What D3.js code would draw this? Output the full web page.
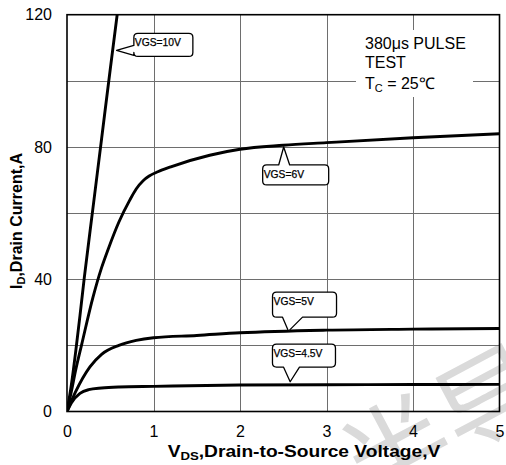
<!DOCTYPE html>
<html>
<head>
<meta charset="utf-8">
<script src="https://cdn.jsdelivr.net/npm/d3@7"></script>
<style>
  html, body { margin: 0; padding: 0; background: #fff; }
  svg { display: block; font-family: "Liberation Sans", Arial, sans-serif; }
</style>
</head>
<body>
<svg id="chart" width="506" height="465"></svg>
<script>
// Output characteristics: drain current vs drain-source voltage for several gate drives
const seriesNames = ["VGS=10V", "VGS=6V", "VGS=5V", "VGS=4.5V"];

const vds10 = [0, 0.05, 0.1, 0.15, 0.2, 0.3, 0.4, 0.5, 0.58];
const id10  = [0, 8, 18, 29, 40.5, 61.5, 82.5, 103.5, 120];

const vds6 = [0, 0.05, 0.1, 0.17, 0.3, 0.4, 0.475, 0.6, 0.727, 0.8, 0.88, 0.95, 1.05, 1.2, 1.65, 2, 2.5, 3, 4, 5];
const id6  = [0, 6, 12.5, 20.3, 34.5, 43.5, 49, 57.3, 64, 67.3, 69.8, 71.2, 72.5, 74, 77.5, 79.3, 80.5, 81.3, 82.8, 84];

const vds5 = [0, 0.1, 0.265, 0.4, 0.6, 0.8, 1, 1.5, 2, 3, 4, 5];
const id5  = [0, 6, 13.5, 17.3, 20, 21.5, 22.3, 23, 23.8, 24.6, 24.9, 25.1];

const vds45 = [0, 0.05, 0.15, 0.25, 0.4, 0.6, 1, 2, 3, 4, 5];
const id45  = [0, 2.6, 5.5, 6.6, 7.1, 7.4, 7.6, 8.0, 8.1, 8.15, 8.2];

// where each callout points, in data units
const labelAnchorV = [0.573, 2.505, 2.561, 2.58];
const labelAnchorI = [109.2, 80.0, 24.3, 9.0];

const xTicks = [0, 1, 2, 3, 4, 5];
const yTickLabels = [0, 40, 80, 120];
const yGrid = [20, 40, 60, 80, 100];
const xGrid = [1, 2, 3, 4];

const noteLines = ["380μs PULSE", "TEST"];

const svg = d3.select("#chart");
const plotLeft = 67, plotRight = 499.5, plotTop = 14.7, plotBottom = 411.5;

const x = d3.scaleLinear().domain([0, 5]).range([plotLeft, plotRight]);
const y = d3.scaleLinear().domain([0, 120]).range([plotBottom, plotTop]);

// faint watermark behind the plot
svg.append("text")
  .attr("transform", "translate(368,512) rotate(-28)")
  .attr("font-family", "'Noto Sans CJK SC', sans-serif")
  .attr("font-size", 108)
  .attr("fill", "#dadada")
  .text("半导体");

// grid
const grid = svg.append("g").attr("stroke", "#6e6e6e").attr("stroke-width", 1);
grid.selectAll("line.h").data(yGrid).join("line")
  .attr("x1", plotLeft).attr("x2", plotRight)
  .attr("y1", d => Math.round(y(d)) + 0.5).attr("y2", d => Math.round(y(d)) + 0.5);
grid.selectAll("line.v").data(xGrid).join("line")
  .attr("y1", plotTop).attr("y2", plotBottom)
  .attr("x1", d => Math.round(x(d)) + 0.5).attr("x2", d => Math.round(x(d)) + 0.5);

// white panel behind the test-condition note
svg.append("rect")
  .attr("x", 356).attr("y", 30).attr("width", 117).attr("height", 67)
  .attr("fill", "#fff");

const note = svg.append("g").attr("font-size", 16).attr("fill", "#000");
note.selectAll("text.l").data(noteLines).join("text")
  .attr("x", 365).attr("y", (d, i) => 48.5 + i * 19.5)
  .text(d => d);
const tc = note.append("text").attr("x", 365).attr("y", 88.5);
tc.append("tspan").text("T");
tc.append("tspan").attr("font-size", 11).attr("dy", 3).text("C");
tc.append("tspan").attr("dy", -3).text(" = 25℃");

// curves
const clipId = "plotclip";
svg.append("clipPath").attr("id", clipId).append("rect")
  .attr("x", plotLeft).attr("y", plotTop - 1)
  .attr("width", plotRight - plotLeft).attr("height", plotBottom - plotTop + 1);

const line = d3.line().x(d => x(d[0])).y(d => y(d[1])).curve(d3.curveMonotoneX);
const curves = [[vds10, id10], [vds6, id6], [vds5, id5], [vds45, id45]]
  .map(([vs, is]) => vs.map((v, i) => [v, is[i]]));

svg.append("g").attr("clip-path", `url(#${clipId})`)
  .selectAll("path").data(curves).join("path")
  .attr("d", line)
  .attr("fill", "none")
  .attr("stroke", "#000")
  .attr("stroke-width", 2.9)
  .attr("stroke-linejoin", "round");

// frame
svg.append("rect")
  .attr("x", plotLeft).attr("y", plotTop)
  .attr("width", plotRight - plotLeft).attr("height", plotBottom - plotTop)
  .attr("fill", "none").attr("stroke", "#000").attr("stroke-width", 1.6);

// axes (labels only; grid and frame drawn separately)
const xAxis = svg.append("g").attr("transform", `translate(0,${plotBottom})`)
  .call(d3.axisBottom(x).tickValues(xTicks).tickFormat(d3.format("d")).tickSize(0).tickPadding(14));
const yAxis = svg.append("g").attr("transform", `translate(${plotLeft},0)`)
  .call(d3.axisLeft(y).tickValues(yTickLabels).tickFormat(d3.format("d")).tickSize(0).tickPadding(15));
[xAxis, yAxis].forEach(a => {
  a.select(".domain").remove();
  a.selectAll("text").attr("font-size", 16).attr("font-family", "'Liberation Sans', Arial, sans-serif").attr("fill", "#000");
});

// axis titles
const xt = svg.append("text")
  .attr("transform", "translate(304,457) scale(1.2,1)")
  .attr("text-anchor", "middle")
  .attr("font-size", 16).attr("font-weight", "bold");
xt.append("tspan").text("V");
xt.append("tspan").attr("font-size", 11).attr("dy", 3).text("DS");
xt.append("tspan").attr("dy", -3).text(",Drain-to-Source Voltage,V");

const yt = svg.append("text")
  .attr("transform", "translate(22,221) rotate(-90)")
  .attr("text-anchor", "middle")
  .attr("font-size", 16).attr("font-weight", "bold");
yt.append("tspan").text("I");
yt.append("tspan").attr("font-size", 11).attr("dy", 3).text("D");
yt.append("tspan").attr("dy", -3).text(",Drain Current,A");

// callouts: box offsets from the pointer tip, and which edge carries the pointer
const calloutLayout = [
  { side: "left",   bx: [17.3, 76.3],  by: [-17, 6],       base: [-5, 5] },
  { side: "top",    bx: [-21, 45],     by: [18, 38],       base: [-5, 6] },
  { side: "bottom", bx: [-16, 48],     by: [-39, -14],     base: [-6, 14] },
  { side: "bottom", bx: [-17.7, 45.3], by: [-37.7, -14.7], base: [-6.7, 9.3] }
];

function calloutPath(tx, ty, L) {
  const r = 4;
  const x0 = tx + L.bx[0], x1 = tx + L.bx[1], y0 = ty + L.by[0], y1 = ty + L.by[1];
  const p = d3.path();
  p.moveTo(x0 + r, y0);
  if (L.side === "top") { p.lineTo(tx + L.base[0], y0); p.lineTo(tx, ty); p.lineTo(tx + L.base[1], y0); }
  p.lineTo(x1 - r, y0);
  p.quadraticCurveTo(x1, y0, x1, y0 + r);
  p.lineTo(x1, y1 - r);
  p.quadraticCurveTo(x1, y1, x1 - r, y1);
  if (L.side === "bottom") { p.lineTo(tx + L.base[1], y1); p.lineTo(tx, ty); p.lineTo(tx + L.base[0], y1); }
  p.lineTo(x0 + r, y1);
  p.quadraticCurveTo(x0, y1, x0, y1 - r);
  if (L.side === "left") { p.lineTo(x0, ty + L.base[1]); p.lineTo(tx, ty); p.lineTo(x0, ty + L.base[0]); }
  p.lineTo(x0, y0 + r);
  p.quadraticCurveTo(x0, y0, x0 + r, y0);
  p.closePath();
  return p.toString();
}

const callouts = svg.append("g").selectAll("g").data(seriesNames).join("g");
callouts.append("path")
  .attr("d", (d, i) => calloutPath(x(labelAnchorV[i]), y(labelAnchorI[i]), calloutLayout[i]))
  .attr("fill", "#fff").attr("stroke", "#000").attr("stroke-width", 1.3)
  .attr("stroke-linejoin", "round");
callouts.append("text")
  .attr("x", (d, i) => x(labelAnchorV[i]) + calloutLayout[i].bx[0] + 1)
  .attr("y", (d, i) => y(labelAnchorI[i]) + calloutLayout[i].by[0] + 13)
  .attr("font-size", 10.3).attr("fill", "#000")
  .attr("stroke", "#000").attr("stroke-width", 0.25)
  .text(d => d);
</script>
</body>
</html>
